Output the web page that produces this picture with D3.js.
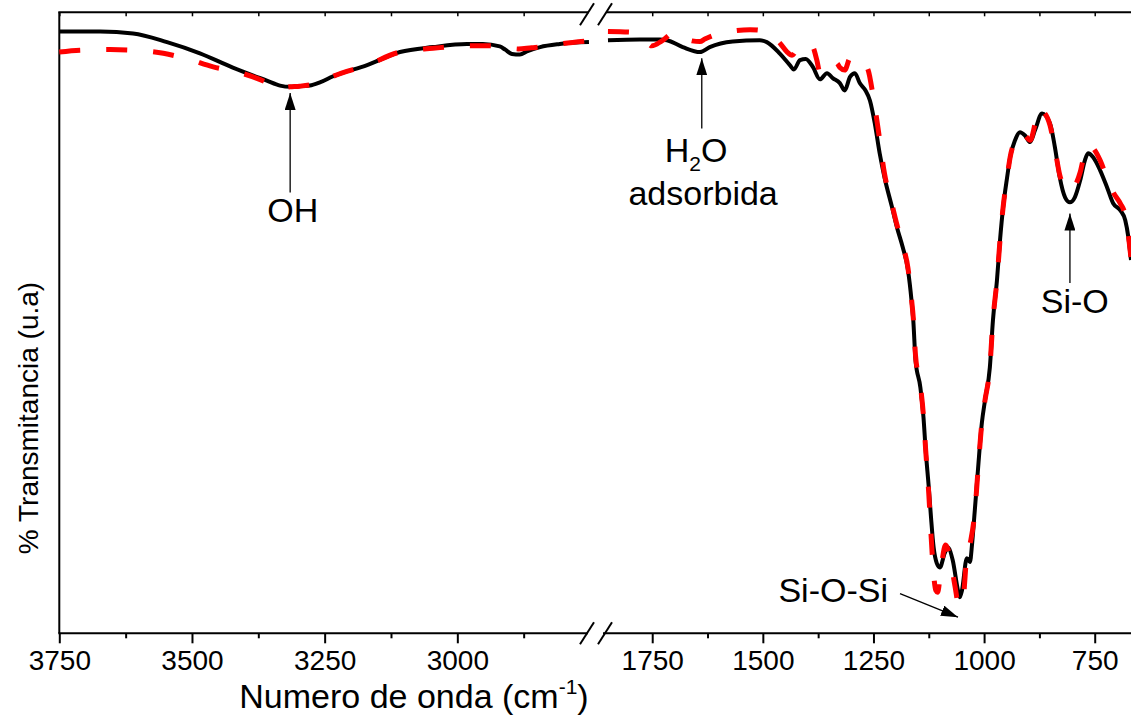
<!DOCTYPE html>
<html>
<head>
<meta charset="utf-8">
<script src="https://cdn.jsdelivr.net/npm/d3@7"></script>
<style>
  body { margin: 0; background: #fff; }
  svg { display: block; font-family: "Liberation Sans", Arial, sans-serif; }
</style>
</head>
<body>
<svg id="chart" width="1131" height="715"></svg>
<script>
// wavenumber (cm-1), transmittance (a.u. scaled 0-100)
const blackHigh = [[3750,96.9],[3673,96.9],[3611,96.6],[3547,95.2],[3485,93.4],[3423,91.1],[3359,89.0],[3334,88.2],[3315,88.0],[3297,88.1],[3278,88.2],[3259,88.7],[3234,89.7],[3170,91.5],[3108,93.6],[3046,94.4],[2982,94.9],[2952,94.9],[2920,94.5],[2910,94.0],[2897,93.3],[2882,93.2],[2869,93.7],[2844,94.4],[2807,94.9],[2752,95.2]];
const redHigh = [[3750,93.6],[3711,93.9],[3654,94.0],[3611,93.9],[3554,93.4],[3509,92.5],[3460,91.2],[3415,90.4],[3359,88.7],[3338,87.8],[3315,88.0],[3297,88.1],[3259,88.7],[3234,89.7],[3170,91.5],[3108,93.6],[3046,94.2],[2982,94.6],[2940,94.6],[2910,94.4],[2885,94.1],[2860,94.3],[2844,94.4],[2807,94.9],[2752,95.4]];

const blackLow = [[1850,95.5],[1778,95.6],[1733,95.6],[1717,95.5],[1681,94.4],[1642,93.6],[1620,94.4],[1568,95.3],[1507,95.5],[1491,95.2],[1461,93.3],[1439,91.5],[1430,90.8],[1416,92.3],[1403,92.5],[1387,91.2],[1371,89.2],[1355,90.2],[1342,89.4],[1326,88.6],[1315,87.4],[1303,89.6],[1292,90.2],[1281,88.6],[1268,87.4],[1258,85.8],[1247,82.1],[1236,77.3],[1225,73.4],[1208,68.6],[1197,65.4],[1184,62.2],[1172,58.5],[1164,53.6],[1160,50.4],[1155,44.0],[1144,39.6],[1137,34.8],[1132,29.5],[1125,23.5],[1120,18.7],[1114,13.8],[1107,11.3],[1100,10.6],[1089,12.9],[1082,13.8],[1071,11.8],[1059,6.9],[1055,5.8],[1050,6.9],[1039,12.1],[1032,11.5],[1027,14.5],[1021,19.8],[1014,26.2],[1005,33.9],[998,37.5],[987,42.8],[980,50.4],[971,56.8],[964,63.3],[957,68.6],[948,73.4],[941,76.7],[930,79.4],[919,80.7],[908,80.2],[896,79.1],[885,81.0],[869,83.7],[851,82.1],[840,78.3],[829,73.4],[817,70.2],[806,69.4],[795,70.2],[783,72.9],[772,76.2],[765,77.3],[754,76.7],[738,74.6],[722,71.8],[708,69.2],[692,68.1],[681,66.5],[674,63.8],[668,60.1]];
const redLow = [[1850,96.9],[1800,96.8],[1767,95.8],[1751,94.6],[1728,95.4],[1703,96.6],[1680,96.2],[1660,95.4],[1642,95.3],[1631,95.7],[1602,96.5],[1575,96.9],[1529,97.2],[1507,97.1],[1484,96.6],[1461,95.0],[1445,93.6],[1434,93.1],[1416,94.7],[1398,94.9],[1387,94.4],[1378,92.3],[1371,90.3],[1360,91.5],[1349,91.9],[1333,91.8],[1326,91.1],[1315,90.7],[1303,92.6],[1287,92.8],[1274,91.9],[1262,90.7],[1251,86.6],[1240,81.5],[1225,74.0],[1208,69.0],[1197,65.8],[1184,62.5],[1172,58.8],[1164,53.8],[1160,50.8],[1155,44.8],[1144,39.9],[1137,35.0],[1132,29.5],[1125,22.5],[1120,16.0],[1114,9.5],[1109,6.9],[1105,6.6],[1098,10.1],[1087,14.2],[1078,12.6],[1066,7.7],[1057,4.5],[1048,5.3],[1039,12.6],[1030,15.0],[1021,19.5],[1014,26.0],[1005,33.9],[998,37.5],[987,42.8],[980,50.4],[971,56.8],[964,63.3],[957,68.6],[948,73.4],[941,76.7],[930,79.4],[919,80.7],[908,80.2],[896,79.4],[885,82.0],[878,84.5],[869,84.2],[851,81.8],[840,78.0],[829,73.8],[817,71.7],[806,71.3],[795,72.0],[783,74.2],[772,77.5],[763,78.6],[750,77.8],[738,76.2],[722,73.3],[708,71.0],[692,69.2],[681,67.3],[674,64.1],[668,60.4]];

const ticksHigh = [3750, 3500, 3250, 3000];
const minorHigh = [3625, 3375, 3125, 2875];
const ticksLow = [1750, 1500, 1250, 1000, 750];
const minorLow = [1625, 1375, 1125, 875];

// band labels: arrow from (x0,v0) to tip (x1,v1), text lines at (x,v)
const labels = [
  { seg: "high", x0: 3315, v0: 71.0, x1: 3315, v1: 87.0, lines: [{ t: "OH", x: 3310, v: 66.2 }] },
  { seg: "low", x0: 1638, v0: 81.3, x1: 1638, v1: 92.6, lines: [{ t: "H2O", x: 1651, v: 75.9 }, { t: "adsorbida", x: 1635, v: 69.0 }] },
  { seg: "low", x0: 806, v0: 56.4, x1: 806, v1: 67.6, lines: [{ t: "Si-O", x: 795, v: 51.5 }] },
  { seg: "low", x0: 1190, v0: 6.4, x1: 1059, v1: 2.6, lines: [{ t: "Si-O-Si", x: 1341, v: 5.0 }] }
];

const W = 1131, H = 715;
const yTop = 12.3, yBottom = 633.3;
const svg = d3.select("#chart");

const xHigh = d3.scaleLinear().domain([3750, 2750]).range([59.3, 590]);
const xLow = d3.scaleLinear().domain([1868, 668]).range([600, 1131]);
const y = d3.scaleLinear().domain([0, 100]).range([yBottom, yTop]);

const scaleOf = s => s === "high" ? xHigh : xLow;

// frame lines
const frame = svg.append("g").attr("stroke", "#000").attr("stroke-width", 2).attr("fill", "none");
frame.append("line").attr("x1", 59.3).attr("x2", 59.3).attr("y1", yTop).attr("y2", yBottom);
frame.append("line").attr("x1", 58.3).attr("x2", 588).attr("y1", yBottom).attr("y2", yBottom);
frame.append("line").attr("x1", 603).attr("x2", W).attr("y1", yBottom).attr("y2", yBottom);
frame.append("line").attr("x1", 58.3).attr("x2", 589).attr("y1", yTop).attr("y2", yTop);
frame.append("line").attr("x1", 606).attr("x2", W).attr("y1", yTop).attr("y2", yTop);

// break marks
[587, 605].forEach(cx => {
  [yBottom, yTop + 2].forEach(cy => {
    frame.append("line")
      .attr("x1", cx - 7).attr("y1", cy + 11)
      .attr("x2", cx + 7).attr("y2", cy - 11);
  });
});

// bottom and top ticks
function axes(scale, major, minor) {
  const g = svg.append("g").attr("transform", `translate(0,${yBottom})`)
    .call(d3.axisBottom(scale).tickValues(major).tickSize(10).tickPadding(7).tickFormat(d3.format("d")));
  const gm = svg.append("g").attr("transform", `translate(0,${yBottom})`)
    .call(d3.axisBottom(scale).tickValues(minor).tickSize(5).tickFormat(""));
  const t = svg.append("g").attr("transform", `translate(0,${yTop})`)
    .call(d3.axisTop(scale).tickValues(major.concat(minor)).tickSize(-4).tickFormat(""));
  [g, gm, t].forEach(a => {
    a.selectAll(".domain").remove();
    a.selectAll(".tick line").attr("stroke", "#000").attr("stroke-width", 2);
  });
  t.selectAll(".tick line").attr("stroke-width", 1.5);
  g.selectAll(".tick text").attr("font-size", 28).attr("font-family", "Liberation Sans, Arial, sans-serif").attr("fill", "#000");
}
axes(xHigh, ticksHigh, minorHigh);
axes(xLow, ticksLow, minorLow);

// axis titles
const xt = svg.append("text").attr("x", 414).attr("y", 708).attr("text-anchor", "middle")
  .attr("font-size", 34).attr("fill", "#000");
xt.append("tspan").text("Numero de onda (cm");
xt.append("tspan").text("-1").attr("font-size", 21).attr("dy", -14);
xt.append("tspan").text(")").attr("dy", 14);

svg.append("text").attr("transform", "translate(38,418) rotate(-90)").attr("text-anchor", "middle")
  .attr("font-size", 28).attr("fill", "#000").text("% Transmitancia (u.a)");

// spectra
function drawLine(data, scale, color, width, dash) {
  const line = d3.line().x(d => scale(d[0])).y(d => y(d[1])).curve(d3.curveMonotoneX);
  svg.append("path").datum(data).attr("d", line).attr("fill", "none")
    .attr("stroke", color).attr("stroke-width", width)
    .attr("stroke-linejoin", "round").attr("stroke-dasharray", dash);
}
drawLine(blackHigh, xHigh, "#000", 4, null);
drawLine(blackLow, xLow, "#000", 4, null);
drawLine(redHigh, xHigh, "#ff0000", 5, "21,26");
drawLine(redLow, xLow, "#ff0000", 5, "21,26");

// annotations
svg.append("defs").append("marker").attr("id", "head")
  .attr("viewBox", "-17 -5.5 17 11").attr("refX", 0).attr("refY", 0)
  .attr("markerWidth", 17).attr("markerHeight", 11).attr("markerUnits", "userSpaceOnUse")
  .attr("orient", "auto")
  .append("path").attr("d", "M0,0L-17,-5.5L-17,5.5Z").attr("fill", "#000");

labels.forEach(l => {
  const sx = scaleOf(l.seg);
  svg.append("line")
    .attr("x1", sx(l.x0)).attr("y1", y(l.v0))
    .attr("x2", sx(l.x1)).attr("y2", y(l.v1))
    .attr("stroke", "#000").attr("stroke-width", 1.3)
    .attr("marker-end", "url(#head)");
  l.lines.forEach(ln => {
    const t = svg.append("text").attr("x", sx(ln.x)).attr("y", y(ln.v))
      .attr("text-anchor", "middle").attr("font-size", 34).attr("fill", "#000");
    if (ln.t === "H2O") {
      t.append("tspan").text("H");
      t.append("tspan").text("2").attr("font-size", 21).attr("dy", 9);
      t.append("tspan").text("O").attr("dy", -9);
    } else {
      t.text(ln.t);
    }
  });
});
</script>
</body>
</html>
